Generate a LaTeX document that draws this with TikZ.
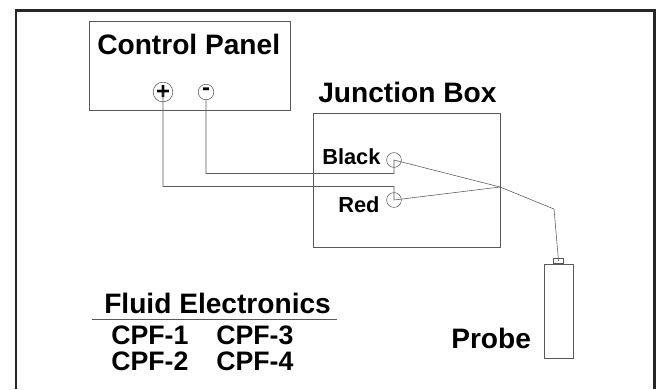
\documentclass[tikz,border=0pt]{standalone}
\usepackage{fontspec}
\setmainfont{Liberation Sans}
\begin{document}
\begin{tikzpicture}[
    x=0.025cm,
    y=-0.025cm,
    box/.style={rectangle, draw=black!65, line width=0.5pt, inner sep=0pt},
    term/.style={circle, draw=black!65, line width=0.4pt, inner sep=0pt, minimum size=0.39cm},
    wire/.style={draw=black!65, line width=0.4pt},
    title/.style={font=\bfseries\fontsize{20}{20}\selectfont, inner sep=0pt, anchor=base west},
    label/.style={font=\bfseries\fontsize{15.5}{15.5}\selectfont, inner sep=0pt, anchor=base west}
]
\useasboundingbox (0,0) rectangle (658,389);

% Rahmen
\coordinate (frameTL) at (16,10.5);
\coordinate (frameTR) at (654.5,10.5);
\coordinate (frameBL) at (16,389);
\coordinate (frameBR) at (654.5,389);
\draw[black!85, line width=1.9pt] (frameBL) -- (frameTL) -- (frameTR) -- (frameBR);

% Control Panel
\node[box, minimum width=5.03cm, minimum height=2.225cm] at (189.5,65.5) (panel) {};
\node[title] at (97,54) (paneltext) {Control Panel};
\node[term] at (163,92) (plus) {\bfseries\fontsize{17}{17}\selectfont +};
\node[term] at (206,92) (minus) {\bfseries\fontsize{17}{17}\selectfont -};

% Junction Box
\node[box, minimum width=4.675cm, minimum height=3.35cm] at (406.5,180) (junction) {};
\node[title] at (318,102) (junctiontext) {Junction Box};
\node[label] at (322,164) (blacktext) {Black};
\node[label] at (338,212) (redtext) {Red};
\node[term, minimum size=0.37cm] at (394,160) (black) {};
\node[term, minimum size=0.37cm] at (394,200) (red) {};

% Probe
\node[box, minimum width=0.725cm, minimum height=2.35cm] at (558.5,311) (probe) {};
\node[box, minimum width=0.25cm, minimum height=0.125cm, anchor=south] at (probe.north) (cap) {};
\node[title] at (451,348) (probetext) {Probe};

% Fluid Electronics
\node[title] at (104,313) (fluidtext) {Fluid Electronics};
\coordinate (ruleL) at (92,319);
\coordinate (ruleR) at (337,319);
\draw[wire, line width=0.5pt] (ruleL) -- (ruleR);
\node[title, font=\bfseries\fontsize{19}{19}\selectfont] at (111,344) (cpfa) {CPF-1};
\node[title, font=\bfseries\fontsize{19}{19}\selectfont] at (216,344) (cpfc) {CPF-3};
\node[title, font=\bfseries\fontsize{19}{19}\selectfont] at (111,370) (cpfb) {CPF-2};
\node[title, font=\bfseries\fontsize{19}{19}\selectfont] at (216,370) (cpfd) {CPF-4};

% Leitungen
\coordinate (blackmid) at (394,173.5);
\coordinate (redmid) at (394,186.5);
\coordinate (kneeM) at (206,173.5);
\coordinate (kneeP) at (163,186.5);
\coordinate (cross) at (500,187);
\coordinate (bend) at (554,209);
\draw[wire] (plus.center) -- (kneeP) -- (redmid) -- (red.center) -- (cross) -- (bend) -- (cap.center);
\draw[wire] (minus.south) -- (kneeM) -- (blackmid) -- (black.center) -- (cross);
\end{tikzpicture}
\end{document}
